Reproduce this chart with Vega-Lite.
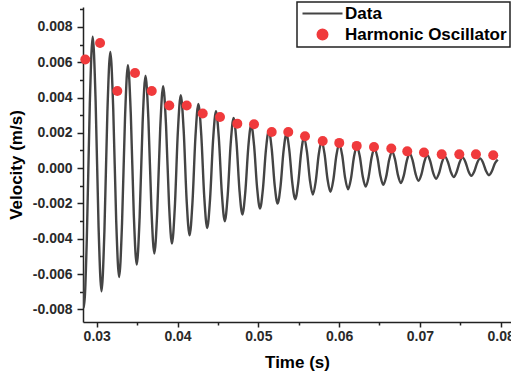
{
  "$schema": "https://vega.github.io/schema/vega-lite/v6.json",
  "width": 428,
  "height": 315,
  "autosize": {"type": "none"},
  "padding": {"left": 83, "top": 7, "right": 0, "bottom": 52},
  "background": "white",
  "config": {"view": {"stroke": null}, "font": "Liberation Sans"},
  "datasets": {
    "osc": [
      {"t":0.02768,"v":0.00433},{"t":0.02805,"v":-0.00383},{"t":0.02841,"v":-0.0079},{"t":0.02877,"v":-0.00406},{"t":0.02914,"v":0.00361},
      {"t":0.0295,"v":0.00745},{"t":0.02986,"v":0.00384},{"t":0.03023,"v":-0.00337},{"t":0.03059,"v":-0.00698},{"t":0.03095,"v":-0.00359},{"t":0.03132,"v":0.00319},
      {"t":0.03168,"v":0.00658},{"t":0.03204,"v":0.00339},{"t":0.03241,"v":-0.00298},{"t":0.03277,"v":-0.00617},{"t":0.03313,"v":-0.00317},{"t":0.0335,"v":0.00283},
      {"t":0.03386,"v":0.00583},{"t":0.03422,"v":0.00301},{"t":0.03459,"v":-0.00265},{"t":0.03495,"v":-0.00547},{"t":0.03531,"v":-0.00279},{"t":0.03568,"v":0.00256},
      {"t":0.03604,"v":0.00524},{"t":0.0364,"v":0.00272},{"t":0.03677,"v":-0.00232},{"t":0.03713,"v":-0.00484},{"t":0.03749,"v":-0.00247},{"t":0.03786,"v":0.00227},
      {"t":0.03822,"v":0.00464},{"t":0.03858,"v":0.00241},{"t":0.03895,"v":-0.00205},{"t":0.03931,"v":-0.00428},{"t":0.03967,"v":-0.00218},{"t":0.04004,"v":0.00203},
      {"t":0.0404,"v":0.00413},{"t":0.04076,"v":0.00215},{"t":0.04113,"v":-0.00183},{"t":0.04149,"v":-0.00381},{"t":0.04185,"v":-0.00195},{"t":0.04222,"v":0.00178},
      {"t":0.04258,"v":0.00364},{"t":0.04294,"v":0.00188},{"t":0.04331,"v":-0.00163},{"t":0.04367,"v":-0.00339},{"t":0.04403,"v":-0.00174},{"t":0.0444,"v":0.00157},
      {"t":0.04476,"v":0.00322},{"t":0.04512,"v":0.00166},{"t":0.04549,"v":-0.00145},{"t":0.04585,"v":-0.00301},{"t":0.04621,"v":-0.00155},{"t":0.04658,"v":0.00138},
      {"t":0.04694,"v":0.00284},{"t":0.0473,"v":0.00147},{"t":0.04767,"v":-0.00126},{"t":0.04803,"v":-0.00263},{"t":0.04839,"v":-0.00136},{"t":0.04876,"v":0.00118},
      {"t":0.04912,"v":0.00245},{"t":0.04948,"v":0.00127},{"t":0.04985,"v":-0.00111},{"t":0.05021,"v":-0.00229},{"t":0.05057,"v":-0.00119},{"t":0.05094,"v":0.00102},
      {"t":0.0513,"v":0.00212},{"t":0.05166,"v":0.00109},{"t":0.05203,"v":-0.00098},{"t":0.05239,"v":-0.00201},{"t":0.05275,"v":-0.00103},{"t":0.05312,"v":0.00095},
      {"t":0.05348,"v":0.00193},{"t":0.05384,"v":0.00101},{"t":0.05421,"v":-0.00084},{"t":0.05457,"v":-0.00176},{"t":0.05493,"v":-0.00089},{"t":0.0553,"v":0.00087},
      {"t":0.05566,"v":0.00174},{"t":0.05602,"v":0.00093},{"t":0.05639,"v":-0.00069},{"t":0.05675,"v":-0.0015},{"t":0.05711,"v":-0.00075},{"t":0.05748,"v":0.00077},
      {"t":0.05784,"v":0.00152},{"t":0.0582,"v":0.00081},{"t":0.05857,"v":-0.00063},{"t":0.05893,"v":-0.00134},{"t":0.05929,"v":-0.00066},{"t":0.05966,"v":0.0007},
      {"t":0.06002,"v":0.00138},{"t":0.06038,"v":0.00074},{"t":0.06075,"v":-0.00056},{"t":0.06111,"v":-0.0012},{"t":0.06147,"v":-0.00059},{"t":0.06184,"v":0.00063},
      {"t":0.0622,"v":0.00124},{"t":0.06256,"v":0.00067},{"t":0.06293,"v":-0.00048},{"t":0.06329,"v":-0.00105},{"t":0.06365,"v":-0.00051},{"t":0.06402,"v":0.00059},
      {"t":0.06438,"v":0.00113},{"t":0.06474,"v":0.00061},{"t":0.06511,"v":-0.00043},{"t":0.06547,"v":-0.00095},{"t":0.06583,"v":-0.00048},{"t":0.0662,"v":0.00047},
      {"t":0.06656,"v":0.00094},{"t":0.06692,"v":0.0005},{"t":0.06729,"v":-0.0004},{"t":0.06765,"v":-0.00084},{"t":0.06801,"v":-0.00042},{"t":0.06838,"v":0.00041},
      {"t":0.06874,"v":0.00083},{"t":0.0691,"v":0.00044},{"t":0.06947,"v":-0.00033},{"t":0.06983,"v":-0.00072},{"t":0.07019,"v":-0.00036},{"t":0.07056,"v":0.00037},
      {"t":0.07092,"v":0.00073},{"t":0.07128,"v":0.0004},{"t":0.07165,"v":-0.00027},{"t":0.07201,"v":-0.0006},{"t":0.07237,"v":-0.00029},{"t":0.07274,"v":0.00034},
      {"t":0.0731,"v":0.00065},{"t":0.07346,"v":0.00036},{"t":0.07383,"v":-0.00021},{"t":0.07419,"v":-0.0005},{"t":0.07455,"v":-0.00022},{"t":0.07492,"v":0.00033},
      {"t":0.07528,"v":0.00061},{"t":0.07564,"v":0.00035},{"t":0.07601,"v":-0.00017},{"t":0.07637,"v":-0.00043},{"t":0.07673,"v":-0.00019},{"t":0.0771,"v":0.00031},
      {"t":0.07746,"v":0.00055},{"t":0.07782,"v":0.00031},{"t":0.07819,"v":-0.00016},{"t":0.07855,"v":-0.0004},{"t":0.07891,"v":-0.00018},{"t":0.07928,"v":0.00026},
      {"t":0.07964,"v":0.00048}
    ],
    "fit": [
      {"t":0.02858,"v":0.00615},{"t":0.03041,"v":0.00709},{"t":0.03255,"v":0.00437},{"t":0.03474,"v":0.00539},{"t":0.03681,"v":0.00437},
      {"t":0.03898,"v":0.00355},{"t":0.04114,"v":0.00355},{"t":0.04312,"v":0.00309},{"t":0.04526,"v":0.0029},{"t":0.0474,"v":0.00252},
      {"t":0.04947,"v":0.00249},{"t":0.05166,"v":0.00205},{"t":0.05371,"v":0.00205},{"t":0.05578,"v":0.00181},{"t":0.05797,"v":0.00154},
      {"t":0.06002,"v":0.00143},{"t":0.06218,"v":0.00126},{"t":0.06432,"v":0.0012},{"t":0.06646,"v":0.00111},{"t":0.06844,"v":0.00095},
      {"t":0.07051,"v":0.00088},{"t":0.0727,"v":0.00078},{"t":0.07488,"v":0.00078},{"t":0.07694,"v":0.00078},{"t":0.07908,"v":0.00073}
    ]
  },
  "layer": [
    {
      "data": {"name": "osc"},
      "mark": {"type": "line", "interpolate": "monotone", "strokeWidth": 2.4, "clip": true},
      "encoding": {
        "x": {
          "field": "t", "type": "quantitative",
          "scale": {"domain": [0.0283, 0.08128], "nice": false, "zero": false},
          "axis": {
            "values": [0.03, 0.04, 0.05, 0.06, 0.07, 0.08], "format": ".2f",
            "grid": false, "domainColor": "#222", "domainWidth": 1.5,
            "tickColor": "#222", "tickWidth": 1.5, "tickSize": 5,
            "labelFont": "Liberation Sans", "labelFontWeight": "bold", "labelFontSize": 14, "labelColor": "#2a2a2a", "labelPadding": 2,
            "title": "Time (s)", "titleFont": "Liberation Sans", "titleFontWeight": "bold", "titleFontSize": 17, "titleColor": "#000", "titlePadding": 11
          }
        },
        "y": {
          "field": "v", "type": "quantitative",
          "scale": {"domain": [-0.00872, 0.00913], "nice": false, "zero": false},
          "axis": {
            "values": [-0.008, -0.006, -0.004, -0.002, 0, 0.002, 0.004, 0.006, 0.008],
            "labelExpr": "replace(format(datum.value, '.3f'), '\u2212', '-')",
            "grid": false, "domainColor": "#222", "domainWidth": 1.5,
            "tickColor": "#222", "tickWidth": 1.5, "tickSize": 6,
            "labelFont": "Liberation Sans", "labelFontWeight": "bold", "labelFontSize": 14, "labelColor": "#2a2a2a", "labelPadding": 5,
            "title": "Velocity (m/s)", "titleFont": "Liberation Sans", "titleFontWeight": "bold", "titleFontSize": 17, "titleColor": "#000", "titlePadding": 7
          }
        },
        "color": {
          "datum": "Data",
          "scale": {"domain": ["Data", "Harmonic Oscillator"], "range": ["#444444", "#f03a3c"]},
          "legend": {
            "title": null, "orient": "none", "legendX": 214, "legendY": -5,
            "strokeColor": "#222", "fillColor": "white", "padding": 3,
            "symbolSize": 100, "symbolOffset": 14, "labelOffset": 14, "rowPadding": 3, "labelLimit": 0,
            "labelFont": "Liberation Sans", "labelFontWeight": "bold", "labelFontSize": 17, "labelColor": "#000",
            "encode": {
              "legend": {"update": {"strokeWidth": {"value": 1.5}}},
              "symbols": {"update": {
                "shape": {"signal": "datum.value === 'Data' ? 'stroke' : 'circle'"},
                "size": {"signal": "datum.value === 'Data' ? 1600 : 100"},
                "fill": {"signal": "datum.value === 'Data' ? 'transparent' : '#f03a3c'"},
                "stroke": {"signal": "datum.value === 'Data' ? '#333' : 'transparent'"},
                "strokeWidth": {"value": 2},
                "opacity": {"value": 1}
              }}
            }
          }
        }
      }
    },
    {
      "data": {"name": "fit"},
      "mark": {"type": "point", "filled": true, "size": 100, "opacity": 1},
      "encoding": {
        "x": {
          "field": "t", "type": "quantitative",
          "axis": {"orient": "bottom", "values": [0.035, 0.045, 0.055, 0.065, 0.075], "labels": false, "domain": false, "grid": false, "tickSize": 3, "tickWidth": 1.5, "tickColor": "#222", "title": null}
        },
        "y": {
          "field": "v", "type": "quantitative",
          "axis": {"orient": "left", "values": [-0.007, -0.005, -0.003, -0.001, 0.001, 0.003, 0.005, 0.007, 0.009], "labels": false, "domain": false, "grid": false, "tickSize": 3.5, "tickWidth": 1.5, "tickColor": "#222", "title": null}
        },
        "color": {"datum": "Harmonic Oscillator"}
      }
    }
  ],
  "resolve": {"axis": {"x": "independent", "y": "independent"}}
}
